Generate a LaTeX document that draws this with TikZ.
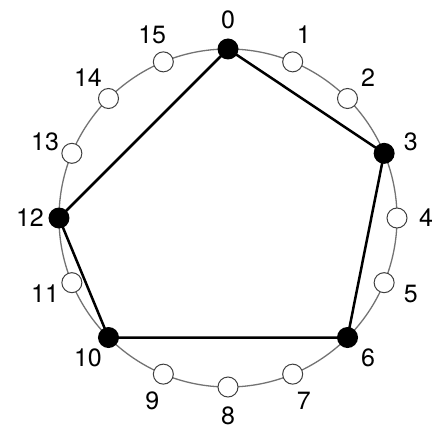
\documentclass[tikz,border=0pt]{standalone}
\usepackage{fontspec}
\setmainfont{TeX Gyre Heros}
\usetikzlibrary{backgrounds}

\begin{document}
\begin{tikzpicture}[x=1pt,y=1pt,
    every node/.style={font=\fontsize{25}{27}\selectfont},
    hole/.style={circle,draw=black!75,line width=1pt,fill=white,inner sep=0pt,minimum size=20pt},
    stone/.style={circle,fill=black,inner sep=0pt,minimum size=21pt},
    rim/.style={draw=black!55,line width=1.3pt},
    edge/.style={draw=black,line width=2.5pt}]
  \useasboundingbox (-228,-210) rectangle (207,218);
  % positions round the ring
  \foreach \i/\kind in {0/stone,1/hole,2/hole,3/stone,4/hole,5/hole,6/stone,7/hole,
                        8/hole,9/hole,10/stone,11/hole,12/stone,13/hole,14/hole,15/hole} {
    \node[\kind] (p\i) at ({90-22.5*\i}:169) {};
    \node (l\i) at ({90-22.5*\i}:198) {\i};
  }
  \begin{scope}[on background layer]
    \draw[rim] (0,0) circle (169);
    \draw[edge] (p0.center) -- (p3.center) -- (p6.center) -- (p10.center) -- (p12.center) -- cycle;
  \end{scope}
\end{tikzpicture}
\end{document}
